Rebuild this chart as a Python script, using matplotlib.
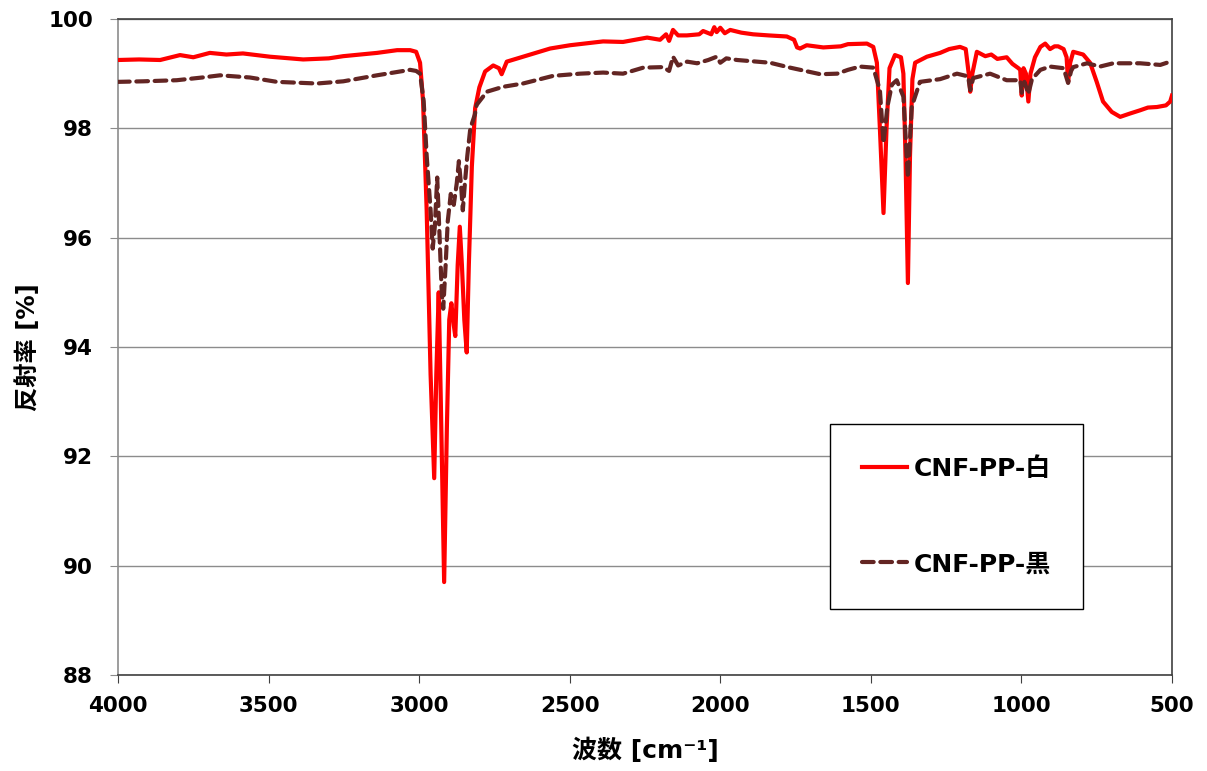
import matplotlib
matplotlib.use("Agg")
import matplotlib.pyplot as plt

plt.rcParams['font.family'] = ['DejaVu Sans', 'Noto Sans CJK JP']

# ---- data ----
red_wn = [4000, 3930, 3860, 3794, 3750, 3695, 3640, 3585, 3495, 3385, 3300, 3252, 3140, 3073, 3030, 3010,
          2997, 2987, 2975, 2962, 2950, 2943, 2935, 2928, 2917, 2908, 2900, 2893, 2885, 2880, 2872, 2865,
          2858, 2850, 2842, 2835, 2825, 2814, 2800, 2781, 2754, 2735, 2726, 2709, 2655, 2565, 2499, 2389,
          2323, 2243, 2200, 2180, 2170, 2157, 2140, 2111, 2070, 2057, 2030, 2020, 2012, 2000, 1985, 1967,
          1930, 1891, 1840, 1779, 1755, 1745, 1735, 1713, 1658, 1600, 1576, 1513, 1492, 1480, 1470, 1458,
          1448, 1438, 1420, 1400, 1392, 1385, 1377, 1370, 1362, 1353, 1314, 1270, 1240, 1204, 1185, 1175,
          1170, 1163, 1148, 1120, 1100, 1080, 1049, 1030, 1010, 1004, 999, 993, 985, 977, 970, 955, 937,
          921, 905, 890, 878, 860, 850, 845, 838, 828, 795, 772, 750, 729, 700, 672, 640, 606, 580, 550,
          520, 506, 500]
red_val = [99.25, 99.26, 99.25, 99.34, 99.30, 99.38, 99.35, 99.37, 99.31, 99.26, 99.28, 99.32, 99.38, 99.43, 99.43, 99.40,
           99.20, 98.50, 96.5, 93.5, 91.6, 93.5, 95.0, 93.0, 89.7, 92.5, 94.5, 94.8, 94.4, 94.2, 95.5, 96.2,
           95.5, 94.5, 93.9, 95.5, 97.3, 98.37, 98.75, 99.04, 99.15, 99.10, 98.99, 99.22, 99.31, 99.46, 99.52, 99.59,
           99.58, 99.66, 99.62, 99.72, 99.60, 99.80, 99.70, 99.70, 99.72, 99.78, 99.72, 99.85, 99.76, 99.84, 99.74, 99.80,
           99.75, 99.72, 99.70, 99.68, 99.62, 99.48, 99.46, 99.52, 99.48, 99.50, 99.54, 99.55, 99.49, 99.2, 98.0, 96.45,
           98.0, 99.1, 99.34, 99.3, 99.0, 97.5, 95.17, 97.5, 98.9, 99.2, 99.31, 99.38, 99.45, 99.49, 99.45, 99.0,
           98.67, 99.0, 99.40, 99.32, 99.35, 99.27, 99.30, 99.18, 99.10, 99.07, 98.60, 99.1, 99.0, 98.49, 99.0, 99.3, 99.49,
           99.55, 99.45, 99.50, 99.50, 99.45, 99.3, 98.85, 99.2, 99.40, 99.35, 99.20, 98.85, 98.49, 98.3, 98.21, 98.27, 98.33, 98.38, 98.39,
           98.42, 98.49, 98.6]

blk_wn = [4000, 3917, 3805, 3720, 3661, 3562, 3472, 3339, 3252, 3140, 3030, 3010, 2997, 2985, 2975, 2962,
          2955, 2948, 2940, 2932, 2925, 2920, 2912, 2905, 2895, 2885, 2875, 2868, 2860, 2855, 2848, 2840,
          2830, 2815, 2809, 2775, 2721, 2655, 2555, 2466, 2389, 2323, 2256, 2190, 2170, 2157, 2140, 2110,
          2077, 2040, 2012, 2000, 1980, 1944, 1835, 1768, 1668, 1612, 1576, 1536, 1492, 1470, 1458, 1445,
          1430, 1414, 1392, 1377, 1364, 1337, 1270, 1214, 1177, 1170, 1160, 1104, 1049, 1004, 999, 990,
          977, 965, 937, 905, 860, 845, 835, 828, 782, 739, 695, 606, 539, 506, 500]
blk_val = [98.85, 98.86, 98.88, 98.93, 98.97, 98.93, 98.85, 98.82, 98.86, 98.97, 99.07, 99.05, 99.00, 98.5, 97.5, 96.5,
           95.8, 96.2, 97.1, 96.0, 95.0, 94.7, 95.5, 96.3, 96.8, 96.6, 97.0, 97.4, 96.9, 96.5, 97.0, 97.5,
           98.0, 98.25, 98.43, 98.67, 98.76, 98.82, 98.96, 99.00, 99.02, 99.00, 99.11, 99.12, 99.05, 99.31, 99.15, 99.22,
           99.19, 99.25, 99.31, 99.20, 99.28, 99.25, 99.20, 99.11, 98.99, 99.00, 99.07, 99.13, 99.11, 98.7, 97.73, 98.4,
           98.8, 98.88, 98.58, 97.10, 98.40, 98.85, 98.90, 99.00, 98.95, 98.70, 98.92, 99.00, 98.88, 98.88, 98.65, 98.85,
           98.63, 98.9, 99.07, 99.13, 99.10, 98.83, 99.05, 99.12, 99.19, 99.13, 99.19, 99.19, 99.16, 99.22, 99.22]

series_labels = ['CNF-PP-白', 'CNF-PP-黒']
x_ticks = [4000, 3500, 3000, 2500, 2000, 1500, 1000, 500]
y_ticks = [88, 90, 92, 94, 96, 98, 100]
x_label = '波数 [cm⁻¹]'
y_label = '反射率 [%]'

# ---- figure ----
fig = plt.figure(figsize=(12.07, 7.71), dpi=100)
ax = fig.add_axes([118/1207, 1 - 675/771, (1172-118)/1207, (675-19)/771])

ax.plot(red_wn, red_val, color='#FF0000', lw=3.0, solid_joinstyle='round', label=series_labels[0], zorder=3)
ax.plot(blk_wn, blk_val, color='#632523', lw=3.0, linestyle=(0, (2.8, 1.6)), dash_capstyle='round',
        label=series_labels[1], zorder=3)

ax.set_xlim(4000, 500)
ax.set_ylim(88, 100)
ax.set_xticks(x_ticks)
ax.set_yticks(y_ticks)
ax.yaxis.grid(True, color='#8c8c8c', lw=1.0)
ax.set_axisbelow(True)

for lbl in ax.get_xticklabels() + ax.get_yticklabels():
    lbl.set_fontweight('bold')
    lbl.set_fontsize(15.5)
ax.tick_params(axis='y', direction='out', length=6, color='#8c8c8c', pad=12)
ax.tick_params(axis='x', direction='out', length=6, color='#404040', pad=9)

ax.spines['left'].set_color('#8c8c8c')
for s in ['top', 'right', 'bottom']:
    ax.spines[s].set_color('#404040')
for s in ax.spines.values():
    s.set_linewidth(1.2)

ax.set_xlabel(x_label, fontsize=18, fontweight='bold', labelpad=16)
ax.set_ylabel(y_label, fontsize=17.5, fontweight='bold', labelpad=6)

leg = ax.legend(loc='lower left', bbox_to_anchor=(0.6755, 0.101, 0.2405, 0.285), mode='expand',
                borderaxespad=0, fancybox=False, edgecolor='black', framealpha=1,
                prop={'weight': 'bold', 'size': 18}, labelspacing=2.85, borderpad=1.3,
                handlelength=1.8, handletextpad=0.25)
leg.get_frame().set_linewidth(1.0)

fig.savefig('out.png', dpi=100)
